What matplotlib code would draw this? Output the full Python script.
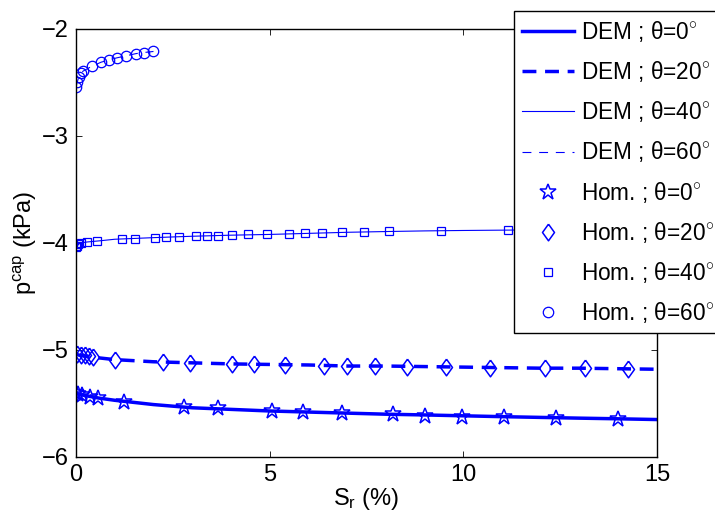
import numpy as np
import matplotlib
matplotlib.use("Agg")
import matplotlib.pyplot as plt

plt.rcParams['font.family'] = ['Liberation Sans', 'DejaVu Sans']
plt.rcParams['mathtext.fontset'] = 'custom'
plt.rcParams['mathtext.rm'] = 'Liberation Sans'
plt.rcParams['mathtext.it'] = 'Liberation Sans:italic'

BLUE = '#0000ff'

# DEM curves
dem0_x = [0, 0.05, 0.15, 0.3, 0.6, 1, 1.5, 2, 3, 4, 5, 6, 7, 8, 9, 10, 11, 12, 13, 14, 15]
dem0_y = [-5.40, -5.41, -5.42, -5.43, -5.45, -5.47, -5.49, -5.51, -5.54, -5.555, -5.57,
          -5.58, -5.59, -5.60, -5.607, -5.615, -5.623, -5.63, -5.637, -5.643, -5.65]

dem20_x = [0, 0.1, 0.3, 0.5, 1, 2, 3, 4, 5, 6, 7, 8, 9, 10, 11, 12, 13, 14, 15]
dem20_y = [-5.04, -5.05, -5.06, -5.07, -5.09, -5.11, -5.12, -5.13, -5.135, -5.14, -5.15,
           -5.15, -5.155, -5.16, -5.165, -5.17, -5.17, -5.175, -5.18]

dem40_x = [0, 0.05, 0.1, 0.3, 0.6, 1, 2, 3, 4, 5, 6, 7, 8, 9, 10, 11, 12, 13, 14, 15]
dem40_y = [-4.04, -4.02, -4.0, -3.99, -3.98, -3.965, -3.95, -3.937, -3.927, -3.92, -3.91,
           -3.90, -3.893, -3.887, -3.883, -3.88, -3.877, -3.875, -3.872, -3.87]

dem60_x = [0, 0.03, 0.07, 0.12, 0.2, 0.4, 0.65, 0.85, 1.05, 1.3, 1.55, 1.75, 2.0]
dem60_y = [-2.54, -2.50, -2.45, -2.41, -2.39, -2.35, -2.31, -2.29, -2.27, -2.25, -2.23, -2.22, -2.21]

# homogenised model points
hom0_x = [0, 0.06, 0.15, 0.36, 0.57, 1.24, 2.79, 3.67, 5.05, 5.85, 6.87, 8.19, 9.01, 9.96,
          11.05, 12.39, 13.98]
hom0_y = [-5.405, -5.414, -5.42, -5.44, -5.45, -5.49, -5.53, -5.545, -5.57, -5.577, -5.59,
          -5.60, -5.614, -5.623, -5.63, -5.638, -5.645]

hom20_x = [0.02, 0.12, 0.23, 0.34, 0.45, 1.01, 2.25, 2.94, 4.02, 4.60, 5.40, 6.39, 7.00, 7.72,
           8.55, 9.55, 10.69, 12.11, 13.14, 14.24]
hom20_y = [-5.04, -5.045, -5.05, -5.06, -5.065, -5.09, -5.11, -5.12, -5.13, -5.13, -5.14,
           -5.145, -5.15, -5.15, -5.155, -5.16, -5.165, -5.17, -5.17, -5.175]

hom40_x = [0, 0.02, 0.06, 0.12, 0.28, 0.55, 1.18, 1.52, 2.04, 2.32, 2.67, 3.11, 3.37, 3.67,
           4.04, 4.45, 4.94, 5.51, 5.91, 6.36, 6.86, 7.44, 8.09, 9.42, 11.16]
hom40_y = [-4.04, -4.03, -4.01, -4.0, -3.99, -3.98, -3.96, -3.96, -3.95, -3.945, -3.94, -3.935,
           -3.93, -3.93, -3.925, -3.92, -3.92, -3.915, -3.91, -3.905, -3.90, -3.897, -3.89,
           -3.885, -3.88]

hom60_x = [0, 0.03, 0.07, 0.12, 0.17, 0.41, 0.65, 0.85, 1.05, 1.29, 1.55, 1.76, 1.98]
hom60_y = [-2.54, -2.50, -2.45, -2.41, -2.39, -2.35, -2.31, -2.29, -2.27, -2.25, -2.23, -2.22, -2.21]

deg = r'$^{\circ}$'
diamond = [(0, 1), (0.72, 0), (0, -1), (-0.72, 0), (0, 1)]
FS = 17
LFS = 16.3

fig = plt.figure(figsize=(7.15, 5.14), dpi=100)
ax = fig.add_axes([0.1063, 0.1109, 0.8126, 0.8327])

ax.plot(dem0_x, dem0_y, color=BLUE, lw=2.5, label='DEM ; θ=0' + deg)
ax.plot(dem20_x, dem20_y, color=BLUE, lw=2.5, ls=(0, (4, 2.5)), label='DEM ; θ=20' + deg)
ax.plot(dem40_x, dem40_y, color=BLUE, lw=0.8, label='DEM ; θ=40' + deg)
ax.plot(dem60_x, dem60_y, color=BLUE, lw=0.8, ls=(0, (8, 7)), label='DEM ; θ=60' + deg)

ax.plot(hom0_x, hom0_y, ls='none', marker='*', ms=12, mfc='none', mec=BLUE, mew=1.1,
        label='Hom. ; θ=0' + deg)
ax.plot(hom20_x, hom20_y, ls='none', marker=diamond, ms=12, mfc='none', mec=BLUE, mew=1.1,
        label='Hom. ; θ=20' + deg)
ax.plot(hom40_x, hom40_y, ls='none', marker='s', ms=6, mfc='none', mec=BLUE, mew=0.9,
        label='Hom. ; θ=40' + deg)
ax.plot(hom60_x, hom60_y, ls='none', marker='o', ms=7.5, mfc='none', mec=BLUE, mew=0.9,
        label='Hom. ; θ=60' + deg)

ax.set_xlim(0, 15)
ax.set_ylim(-6, -2)
ax.set_xticks([0, 5, 10, 15])
ax.set_yticks([-6, -5, -4, -3, -2])
ax.tick_params(direction='in', length=4, width=0.6, labelsize=FS, top=True, right=True, pad=5)
for s in ax.spines.values():
    s.set_linewidth(1.0)

ax.set_xlabel(r'S$_{\mathrm{r}}$ (%)', fontsize=FS, labelpad=0)
ax.set_ylabel(r'p$^{\mathrm{cap}}$ (kPa)', fontsize=FS, labelpad=2)

leg = ax.legend(loc='upper left', bbox_to_anchor=(514 / 715, 1 - 11 / 514),
                bbox_transform=fig.transFigure, fontsize=LFS, numpoints=1,
                handlelength=2.3, handletextpad=0.3, labelspacing=0.67,
                borderpad=0.35, borderaxespad=0, fancybox=False, framealpha=1)
leg.get_frame().set_edgecolor('black')
leg.get_frame().set_linewidth(1.0)

fig.savefig('out.png', dpi=100)
